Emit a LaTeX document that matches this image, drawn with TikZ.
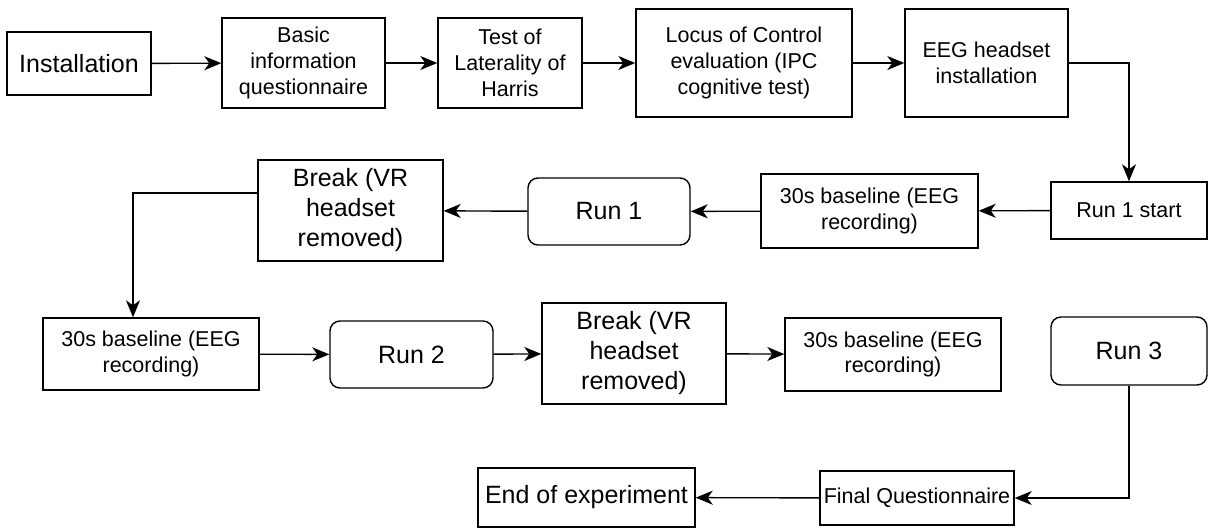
\documentclass[tikz,border=0pt]{standalone}
\usepackage{fontspec}
\setmainfont{Liberation Sans}
\usetikzlibrary{arrows.meta}
\tikzset{
  box/.style={draw=black, line width=1.4pt, fill=white, align=center, inner sep=0pt, font=\fontsize{21.5}{25.8}\selectfont},
  bigbox/.style={box, font=\fontsize{25}{30}\selectfont},
  runbox/.style={bigbox, rounded corners=10pt},
  arr/.style={line width=1.4pt, -{Stealth[length=17pt,width=14pt,inset=5pt]}}
}
\begin{document}
\begin{tikzpicture}[x=1pt,y=-1pt]
\useasboundingbox (0,0) rectangle (1208,528);
% row 1
\node[bigbox, minimum width=144pt, minimum height=63pt] (inst) at (79,63.5) {Installation};
\node[box, minimum width=163pt, minimum height=90pt] (basic) at (303.5,63) {Basic\\information\\questionnaire};
\node[box, minimum width=144pt, minimum height=90pt] (test) at (510,63) {Test of\\Laterality of\\Harris};
\node[box, minimum width=216pt, minimum height=108pt] (locus) at (744,63) {Locus of Control\\evaluation (IPC\\cognitive test)};
\node[box, minimum width=163pt, minimum height=108pt] (eeg) at (986.5,63) {EEG headset\\installation};
% row 2
\node[box, minimum width=156pt, minimum height=57pt] (r1s) at (1129,210.5) {Run 1 start};
\node[box, minimum width=217pt, minimum height=74pt] (bl1) at (869.5,211) {30s baseline (EEG\\recording)};
\node[runbox, minimum width=162pt, minimum height=67pt] (run1) at (609,211.5) {Run 1};
\node[bigbox, minimum width=185pt, minimum height=101pt] (brk1) at (350.5,210.5) {Break (VR\\headset\\removed)};
% row 3
\node[box, minimum width=216pt, minimum height=72pt] (bl2) at (151,354) {30s baseline (EEG\\recording)};
\node[runbox, minimum width=163pt, minimum height=67pt] (run2) at (411.5,354.5) {Run 2};
\node[bigbox, minimum width=184pt, minimum height=101pt] (brk2) at (634,353.5) {Break (VR\\headset\\removed)};
\node[box, minimum width=216pt, minimum height=73pt] (bl3) at (893,354.5) {30s baseline (EEG\\recording)};
\node[runbox, minimum width=156pt, minimum height=68pt] (run3) at (1129,351) {Run 3};
% row 4
\node[box, minimum width=194pt, minimum height=54pt] (fq) at (917,498) {Final Questionnaire};
\node[bigbox, minimum width=217pt, minimum height=59pt] (end) at (586.5,497.5) {End of experiment};
% connectors
\draw[arr] (inst) -- (basic);
\draw[arr] (basic) -- (test);
\draw[arr] (test) -- (locus);
\draw[arr] (locus) -- (eeg);
\draw[arr] (eeg.east) -| (r1s.north);
\draw[arr] (r1s) -- (bl1);
\draw[arr] (bl1) -- (run1);
\draw[arr] (run1) -- (brk1);
\draw[arr] ([yshift=17.5pt]brk1.west) -| ([xshift=-18pt]bl2.north);
\draw[arr] (bl2) -- (run2);
\draw[arr] (run2) -- (brk2);
\draw[arr] (brk2) -- (bl3);
\draw[arr] (run3.south) |- (fq.east);
\draw[arr] (fq) -- (end);
\end{tikzpicture}
\end{document}
